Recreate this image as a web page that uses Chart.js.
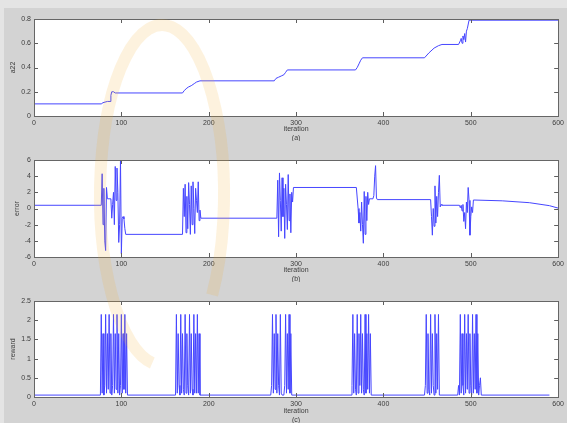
<!DOCTYPE html>
<html>
<head>
<meta charset="utf-8">
<script src="https://cdn.jsdelivr.net/npm/chart.js@4/dist/chart.umd.min.js"></script>
<style>
  html, body { margin: 0; padding: 0; background: #e4e4e4; width: 567px; height: 423px; overflow: hidden; }
  #fig { position: absolute; left: 4px; top: 8px; width: 563px; height: 415px; background: #d3d3d3; }
  canvas.panel { position: absolute; left: 0; }
  #wm { position: absolute; left: 0; top: 0; pointer-events: none; }
</style>
</head>
<body>
<div id="fig"></div>
<canvas id="pa" class="panel" width="567" height="141" style="top:0px"></canvas>
<canvas id="pb" class="panel" width="567" height="141" style="top:141px"></canvas>
<canvas id="pc" class="panel" width="567" height="141" style="top:282px"></canvas>
<canvas id="wm" width="567" height="423"></canvas>
<script>
// x axis ticks shared by all three panels
const iterTicks = [0, 100, 200, 300, 400, 500, 600];

// (a) a22 against iteration
const a22Iter = [0, 77, 79, 84, 87, 88, 89, 91, 93, 95, 170, 172, 175, 177, 180, 182, 184, 186, 190,
  275, 277, 280, 283, 286, 288, 290, 368, 370, 372, 374, 376, 447, 452, 458, 463, 467,
  486, 488, 489, 490, 491, 492, 493, 494, 495, 496, 498, 600];
const a22Val = [0.10, 0.10, 0.11, 0.12, 0.12, 0.17, 0.20, 0.20, 0.19, 0.19, 0.19, 0.21, 0.23, 0.24, 0.25, 0.26, 0.27, 0.28, 0.29,
  0.29, 0.31, 0.32, 0.33, 0.34, 0.36, 0.38, 0.38, 0.40, 0.43, 0.46, 0.48, 0.48, 0.52, 0.56, 0.58, 0.59,
  0.59, 0.62, 0.64, 0.60, 0.66, 0.63, 0.68, 0.61, 0.70, 0.72, 0.79, 0.79];

// (b) error against iteration
const errIter = [0, 77, 78, 79, 80, 81, 82, 83, 84, 88, 89, 90, 91, 92, 93, 94, 95, 96, 97, 98, 99, 100, 101, 102, 103, 104, 105,
  170, 171, 172, 173, 174, 175, 176, 177, 178, 179, 180, 181, 182, 183, 184, 185, 186, 187, 188, 189, 190, 191,
  277, 278, 279, 280, 281, 282, 283, 284, 285, 286, 287, 288, 289, 290, 291, 292, 293, 294, 295, 296, 297,
  369, 371, 372, 373, 374, 375, 376, 377, 378, 379, 380, 381, 382, 383, 384, 388, 389, 390, 391, 392, 393,
  454, 455, 456, 457, 458, 459, 460, 461, 462, 463, 464, 465, 466, 467,
  487, 488, 489, 490, 491, 492, 493, 494, 495, 496, 497, 498, 499, 500, 501, 502, 503, 536, 567, 590, 600];
const errVal = [0.4, 0.4, 4.3, -2.0, 2.5, -4.0, -5.2, 2.6, 1.2, 1.2, -1.2, 0.5, 2.0, -2.0, 5.2, 1.0, 5.0, 2.0, -4.2, -2.0, 6.0, -5.6, -1.2, -1.0, -1.3, -2.5, -3.2,
  -3.2, 2.5, -1.0, 3.0, -3.0, 1.5, -2.5, 3.2, 0.5, -3.2, 2.8, -2.0, 3.3, 0.0, -3.1, 2.5, 1.0, -0.5, 3.3, -1.5, -0.2, -1.2,
  -1.2, -1.2, 3.5, -3.5, 4.4, 1.0, -2.8, 3.8, -1.0, 2.5, -3.7, 3.0, 0.5, -2.6, 4.2, -1.5, 1.8, -3.0, 2.0, 0.8, 2.6,
  2.6, 0.0, -1.8, -0.5, -2.8, 0.8, -2.0, -4.3, 2.1, -3.2, 1.5, -1.5, 2.0, 0.5, 1.2, 1.2, 1.6, 4.0, 5.3, 1.3, 1.1,
  1.1, -1.0, -3.3, 0.0, -2.2, 2.8, -1.8, 1.5, -1.0, 2.0, 4.1, 0.2, 0.5, 0.4,
  0.4, 0.1, 0.4, -0.3, 0.5, -1.6, -0.5, -2.5, 0.8, -0.5, 2.6, 1.0, -3.3, -1.0, 0.2, -0.5, 1.05, 0.95, 0.72, 0.35, 0.05];

// (c) reward against iteration
const rewIter = [0,
  76, 77, 78, 79, 80, 81, 82, 83, 84, 85, 86, 87, 88, 89, 90, 91, 92, 93, 94, 95, 96, 97, 98, 99, 100, 101, 102, 103, 104, 105, 106, 107,
  162, 163, 164, 165, 166, 167, 168, 169, 170, 171, 172, 173, 174, 175, 176, 177, 178, 179, 180, 181, 182, 183, 184, 185, 186, 187, 188, 189, 190,
  271, 272, 273, 274, 275, 276, 277, 278, 279, 280, 281, 282, 283, 284, 286, 287, 288, 289, 290, 291, 292, 293, 294, 295,
  363, 364, 365, 366, 367, 368, 369, 370, 371, 372, 373, 374, 375, 376, 377, 378, 379, 380, 381, 382, 383, 384, 385, 386,
  447, 448, 449, 450, 451, 452, 453, 454, 455, 456, 457, 458, 459, 460, 461, 462, 463, 464,
  485, 486, 487, 488, 489, 490, 491, 492, 493, 494, 495, 496, 497, 498, 499, 500, 501, 502, 503, 504, 505, 506, 507, 508, 509, 510, 511, 512,
  590];
const rewVal = [0.05,
  0.05, 2.15, 0.1, 1.65, 0.05, 0.3, 2.15, 0.1, 1.65, 0.2, 2.15, 0.1, 1.65, 0.05, 0.3, 2.15, 0.1, 1.65, 0.2, 2.15, 0.1, 1.65, 0.05, 0.3, 2.15, 0.1, 1.65, 0.2, 2.15, 0.1, 1.65, 0.05,
  0.05, 2.15, 0.1, 1.65, 0.3, 0.05, 2.15, 0.1, 1.65, 0.2, 0.05, 2.15, 0.1, 1.65, 0.3, 0.05, 2.15, 0.1, 1.65, 0.2, 0.05, 2.15, 0.1, 1.65, 0.1, 2.15, 0.1, 1.65, 0.05,
  0.05, 0.3, 2.15, 0.1, 1.65, 0.2, 2.15, 0.1, 1.65, 0.3, 0.05, 2.15, 0.1, 0.05, 0.05, 0.3, 2.15, 0.1, 1.65, 0.2, 2.15, 0.1, 1.65, 0.05,
  0.05, 0.3, 2.15, 0.1, 1.65, 0.2, 0.05, 2.15, 0.1, 1.65, 0.3, 2.15, 0.1, 1.65, 0.2, 0.05, 2.15, 0.1, 1.65, 0.2, 2.15, 0.1, 1.65, 0.05,
  0.05, 0.3, 2.15, 0.1, 1.65, 0.2, 0.05, 2.15, 0.1, 1.65, 0.3, 0.05, 2.15, 0.1, 1.65, 0.2, 2.15, 0.05,
  0.05, 0.3, 0.05, 2.15, 0.1, 1.65, 0.3, 0.05, 2.15, 0.1, 1.65, 0.2, 2.15, 0.1, 1.65, 0.3, 0.05, 2.15, 0.1, 1.65, 0.2, 2.15, 0.1, 1.65, 0.05, 0.3, 0.5, 0.05,
  0.05];

const FONT = { family: '"Liberation Sans", Arial, sans-serif', size: 7 };
const TEXT = '#3c3c3c';
const LINE = 'rgb(70,70,255)';

// MATLAB-like axes box: white area, dark frame, inward tick marks on all sides
const boxPlugin = {
  id: 'matlabBox',
  beforeDraw(chart) {
    const { ctx, chartArea: a } = chart;
    ctx.save();
    ctx.fillStyle = '#ffffff';
    ctx.fillRect(a.left, a.top, a.right - a.left, a.bottom - a.top);
    ctx.restore();
  },
  afterDatasetsDraw(chart) {
    const { ctx, chartArea: a, scales } = chart;
    const len = 4;
    ctx.save();
    ctx.strokeStyle = '#5e5e5e';
    ctx.lineWidth = 1;
    ctx.beginPath();
    scales.x.ticks.forEach(t => {
      const px = Math.round(scales.x.getPixelForValue(t.value)) + 0.5;
      ctx.moveTo(px, a.bottom); ctx.lineTo(px, a.bottom - len);
      ctx.moveTo(px, a.top); ctx.lineTo(px, a.top + len);
    });
    scales.y.ticks.forEach(t => {
      const py = Math.round(scales.y.getPixelForValue(t.value)) + 0.5;
      ctx.moveTo(a.left, py); ctx.lineTo(a.left + len, py);
      ctx.moveTo(a.right, py); ctx.lineTo(a.right - len, py);
    });
    ctx.stroke();
    ctx.strokeStyle = '#666666';
    ctx.strokeRect(Math.round(a.left) + 0.5, Math.round(a.top) + 0.5,
      Math.round(a.right - a.left), Math.round(a.bottom - a.top));
    ctx.restore();
  }
};

function pts(xs, ys) {
  return xs.map((x, i) => ({ x: x, y: ys[i] }));
}

// plain numbers as tick text: 0.2, 1, 1.5, -4
const plain = v => String(+Number(v).toFixed(3));

function panel(id, xs, ys, yMin, yMax, yStep, yLabel, tag, yTitlePad, xHeight) {
  return new Chart(document.getElementById(id), {
    type: 'line',
    data: {
      datasets: [{
        data: pts(xs, ys),
        borderColor: LINE,
        borderWidth: 1,
        pointRadius: 0,
        tension: 0,
        fill: false
      }]
    },
    options: {
      responsive: false,
      animation: false,
      layout: { padding: { top: 19, right: 8, left: 0, bottom: 0 } },
      plugins: { legend: { display: false }, tooltip: { enabled: false } },
      scales: {
        x: {
          type: 'linear', min: 0, max: 600,
          afterBuildTicks: s => { s.ticks = iterTicks.map(v => ({ value: v })); },
          ticks: { font: FONT, color: TEXT, padding: 3, maxRotation: 0, autoSkip: false, callback: plain },
          grid: { display: false, drawTicks: false },
          border: { display: false },
          title: { display: true, text: ['iteration', tag], font: FONT, color: TEXT, padding: { top: 0, bottom: -1 } },
          afterFit: s => { s.height = xHeight; }
        },
        y: {
          type: 'linear', min: yMin, max: yMax,
          ticks: { stepSize: yStep, font: FONT, color: TEXT, padding: 3, callback: plain },
          grid: { display: false, drawTicks: false },
          border: { display: false },
          title: { display: true, text: yLabel, font: FONT, color: TEXT, padding: { top: yTitlePad, bottom: 0 } },
          afterFit: s => { s.width = 34; }
        }
      }
    },
    plugins: [boxPlugin]
  });
}

panel('pa', a22Iter, a22Val, 0, 0.8, 0.2, 'a22', '(a)', 9, 25);
panel('pb', errIter, errVal, -6, 6, 2, 'error', '(b)', 13, 25);
panel('pc', rewIter, rewVal, 0, 2.5, 0.5, 'reward', '(c)', 9, 26);

// faint publisher watermark laid over the figure
(function () {
  const c = document.getElementById('wm').getContext('2d');
  c.save();
  c.strokeStyle = 'rgba(240,175,50,0.16)';
  c.lineWidth = 12;
  c.beginPath();
  c.ellipse(162, 195, 62, 170, 0, Math.PI * 0.55, Math.PI * 2.2);
  c.stroke();
  c.restore();
})();
</script>
</body>
</html>
